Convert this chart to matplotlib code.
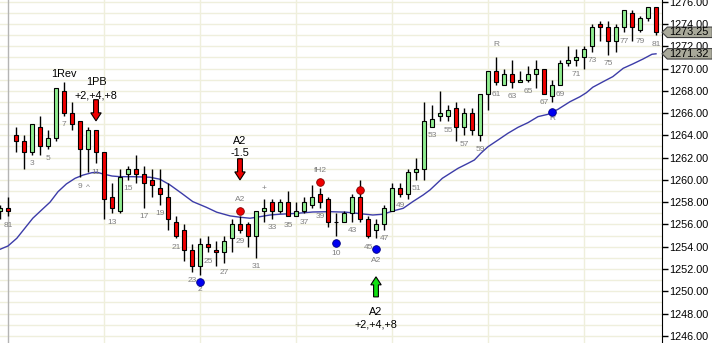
import matplotlib
matplotlib.use('Agg')
import matplotlib.pyplot as plt
from matplotlib.patches import FancyArrow, Polygon

plt.rcParams['font.family'] = ['Liberation Sans', 'DejaVu Sans']

# bars: index -1 and 0 are the last two bars of the previous session
bar_idx = list(range(-1, 82))
opens = [1257.25, 1257.5, 1264, 1263.5, 1262.5, 1264.75, 1263, 1263.75, 1268, 1266,
         1265.25, 1262.75, 1264.5, 1262.5, 1258.5, 1257.25, 1260.5, 1261, 1260.5, 1260,
         1259.25, 1258.5, 1256.25, 1255.5, 1253.75, 1252.25, 1254.25, 1253.75, 1253.5, 1254.75,
         1256, 1256, 1255, 1257.25, 1258, 1257.25, 1258, 1256.75, 1257.25, 1257.75,
         1258.75, 1258.25, 1256.25, 1256.25, 1257, 1258.5, 1256.5, 1255.5, 1256, 1257.25,
         1259.25, 1258.75, 1260.75, 1261, 1264.75, 1265.75, 1265.75, 1266.5, 1264.75, 1266,
         1264, 1267.75, 1269.75, 1268.5, 1269.5, 1268.75, 1269, 1269.5, 1270, 1267.5,
         1268.5, 1270.5, 1270.75, 1271, 1272, 1274, 1273.75, 1272.5, 1273.75, 1275,
         1273.5, 1274.5, 1275.5]
highs = [1257.75, 1258.5, 1264.75, 1264, 1265, 1265.75, 1264.5, 1268.25, 1268.75, 1267,
         1265.25, 1264.75, 1264.5, 1262.5, 1259.75, 1261, 1261.25, 1262.25, 1261.25, 1261,
         1261, 1259.75, 1256.75, 1256, 1254.25, 1254.75, 1255, 1254.5, 1255, 1256.5,
         1256.75, 1256.25, 1257.25, 1258.25, 1258.25, 1258.25, 1259, 1258, 1258.5, 1259.5,
         1259.25, 1258.5, 1257, 1257.25, 1258.75, 1260, 1256.75, 1256.5, 1257.75, 1259.75,
         1259.75, 1261, 1262, 1267, 1266.75, 1268, 1266.75, 1267, 1266.5, 1266.5,
         1267.75, 1269.75, 1271, 1270, 1270.75, 1269.75, 1270.25, 1270.75, 1270, 1269,
         1270.75, 1272, 1271.75, 1272, 1274, 1274.25, 1274.25, 1274, 1275.25, 1275.25,
         1274.75, 1275.5, 1275.5]
lows = [1256.5, 1256.75, 1262.5, 1261, 1262.25, 1262.25, 1262.75, 1263.5, 1265.75, 1264.5,
        1260.25, 1260.75, 1261.5, 1256.5, 1257, 1257, 1260, 1259.75, 1257.5, 1258.5,
        1257.75, 1255.5, 1254.75, 1252.75, 1251.75, 1251.5, 1253.5, 1252.25, 1252.5, 1253.5,
        1255.25, 1254, 1253, 1256.25, 1256.5, 1257, 1256.75, 1256.75, 1257, 1257.5,
        1257.5, 1255.75, 1255, 1256.25, 1256.25, 1256.25, 1254.75, 1254.75, 1255.5, 1257.25,
        1258.5, 1258.25, 1260, 1260, 1264.75, 1265.25, 1265.25, 1263.5, 1264, 1264,
        1263.5, 1266.25, 1268.5, 1268.5, 1268.25, 1268.75, 1268.75, 1268.25, 1267.75, 1267,
        1268.5, 1270.25, 1270.25, 1270, 1271.5, 1272.5, 1271.25, 1271.5, 1273.25, 1272.5,
        1273.25, 1274.25, 1273]
closes = [1257.5, 1257.25, 1263.5, 1262.5, 1265, 1263, 1263.75, 1268.25, 1266, 1265,
          1262.75, 1264.5, 1262.5, 1258.25, 1257.5, 1260.25, 1261, 1260.5, 1259.75, 1259.5,
          1258.75, 1256.5, 1255, 1253.75, 1252.25, 1254.25, 1254, 1253.5, 1254.5, 1256,
          1255.5, 1255, 1257.25, 1257.5, 1257.25, 1258, 1256.75, 1257.25, 1258, 1258.5,
          1258, 1256.25, 1256.25, 1257, 1258.5, 1256.5, 1255, 1256, 1257.5, 1259.25,
          1258.75, 1260.75, 1261, 1265.25, 1265.5, 1266, 1266.25, 1264.75, 1266, 1264.5,
          1267.75, 1269.75, 1268.75, 1269.5, 1268.75, 1269, 1269.5, 1270, 1267.75, 1268.5,
          1270.5, 1270.75, 1271, 1271.75, 1273.75, 1273.75, 1272.5, 1273.75, 1275.25, 1273.75,
          1274.5, 1275.5, 1273.25]

# moving average
ma_pos = [-1, 0, 1.1, 2.1, 3.1, 4.2, 5.25, 6.25, 7.3, 8.4, 9.4, 10.5, 11.1, 11.9, 13, 14,
          15.6, 17.75, 19, 20.25, 21.7, 23.1, 24.8, 26.1, 27.75, 29, 30.25, 31.5, 32.75, 34,
          36.1, 38.1, 40.25, 42.3, 44.4, 45.6, 46.9, 48.1, 49.4, 50.6, 51.9, 52.75, 54.3,
          56.25, 57.5, 58.3, 59.1, 60, 61.25, 62.5, 63.75, 65, 66.25, 67.5, 68.75, 70.25,
          71.5, 72.3, 73.1, 74.4, 75.6, 76.9, 78.1, 79.4, 80.5, 81]
ma_val = [1253.77, 1254.07, 1254.76, 1255.66, 1256.56, 1257.3, 1258.0, 1258.94, 1259.64,
          1260.15, 1260.44, 1260.65, 1260.69, 1260.53, 1260.35, 1260.29, 1260.29, 1260.24,
          1260.06, 1259.55, 1258.8, 1258.05, 1257.54, 1257.1, 1256.77, 1256.65, 1256.56,
          1256.7, 1256.85, 1256.92, 1257.0, 1257.12, 1257.15, 1257.1, 1256.94, 1256.85,
          1256.92, 1257.21, 1257.45, 1258.05, 1258.65, 1259.1, 1260.15, 1261.04, 1261.49,
          1261.79, 1262.39, 1262.98, 1263.58, 1264.19, 1264.72, 1265.14, 1265.68, 1265.89,
          1266.34, 1267.02, 1267.47, 1267.83, 1268.32, 1268.82, 1269.27, 1270.02, 1270.41,
          1270.86, 1271.28, 1271.32]

# annotations
note_text = [(7, 1269.5, '1Rev'), (11, 1268.8, '1PB'), (11, 1267.6, '+2,+4,+8'),
             (29, 1263.5, 'A2'), (29, 1262.4, '-1.5'), (46, 1248.1, 'A2'), (46, 1247.0, '+2,+4,+8')]
small_text = [(29, 1258.25, 'A2'), (32, 1259.25, '+'), (39, 1260.8, 'fH2'), (24, 1250.2, '2'),
              (41, 1253.35, '10'), (46, 1252.75, 'A2'), (61, 1272.2, 'R'), (68, 1265.5, 'R'),
              (10, 1259.3, '^')]
red_dots = [(29, 1257.25), (39, 1259.8), (44, 1259.1)]
blue_dots = [(24, 1250.8), (41, 1254.3), (46, 1253.8), (68, 1266.1)]
sell_arrows = [(11, 1267.2, 1265.3), (29, 1261.9, 1260.0)]
buy_arrows = [(46, 1249.5, 1251.3)]
last_price = 1273.25
last_ma = 1271.32

fig = plt.figure(figsize=(7.12, 3.43), dpi=100)
ax = fig.add_axes([0, 0, 662 / 712, 1])
ax.set_xlim(-1, 81.75)
ax.set_ylim(1245.36, 1276.15)

# grid
for p in range(1246, 1277):
    ax.axhline(p, color='#efefdc', lw=1, zorder=0)
for b in range(12, 82, 12):
    ax.axvline(b, color='#efefdc', lw=1, zorder=0)
ax.axvline(0, color='#b4b4b4', lw=1, zorder=0)

ax.plot(ma_pos, ma_val, color='#3c3ca8', lw=1, zorder=2)

# candles
for i, o, h, l, c in zip(bar_idx, opens, highs, lows, closes):
    ax.vlines(i, l, h, color='black', lw=1, zorder=2.5)
    col = '#90ee90' if c > o else '#f00000'
    ax.bar(i, abs(c - o), bottom=min(o, c), width=0.62, color=col,
           edgecolor='black', lw=0.8, zorder=3)
    if i == 0 or (i >= 3 and i % 2 == 1 and i != 41):
        ax.text(i, l - 0.8, '81' if i == 0 else str(i), fontsize=6, color='#808080',
                ha='center', va='center', zorder=4)

for x, y, s in note_text:
    ax.text(x, y, s, fontsize=7.8, color='black', ha='center', va='center', zorder=5)
for x, y, s in small_text:
    ax.text(x, y, s, fontsize=6, color='#808080', ha='center', va='center', zorder=5)
for x, y in red_dots:
    ax.plot(x, y, 'o', ms=5.5, mfc='#f00000', mec='#800000', mew=0.6, zorder=5)
for x, y in blue_dots:
    ax.plot(x, y, 'o', ms=5.5, mfc='#0000f0', mec='#000080', mew=0.6, zorder=5)
for x, y0, y1 in sell_arrows:
    ax.add_patch(FancyArrow(x, y0, 0, y1 - y0, width=0.6, head_width=1.3, head_length=0.72,
                            length_includes_head=True, fc='#f00000', ec='black', lw=0.8, zorder=5))
for x, y0, y1 in buy_arrows:
    ax.add_patch(FancyArrow(x, y0, 0, y1 - y0, width=0.6, head_width=1.3, head_length=0.72,
                            length_includes_head=True, fc='#10e010', ec='black', lw=0.8, zorder=5))

# axis
for s in ['left', 'top', 'bottom']:
    ax.spines[s].set_visible(False)
ax.spines['right'].set_color('black')
ax.set_xticks([])
ax.yaxis.tick_right()
ax.set_yticks(range(1246, 1277, 2))
ax.set_yticklabels(['%.2f' % v for v in range(1246, 1277, 2)])
ax.tick_params(axis='y', direction='out', length=4, width=1, pad=1, labelsize=7.8)

# last value tags
tr = ax.get_yaxis_transform()
for v in [last_price, last_ma]:
    tag = Polygon([(1.0, v), (1.008, v + 0.47), (1.076, v + 0.47), (1.076, v - 0.47), (1.008, v - 0.47)],
                  closed=True, transform=tr, fc='#a9a99a', ec='#404040', lw=0.8,
                  clip_on=False, zorder=10)
    ax.add_patch(tag)
    ax.text(1.011, v, '%.2f' % v, transform=tr, fontsize=7.8, ha='left', va='center',
            clip_on=False, zorder=11)

fig.savefig('out.png', dpi=100)
